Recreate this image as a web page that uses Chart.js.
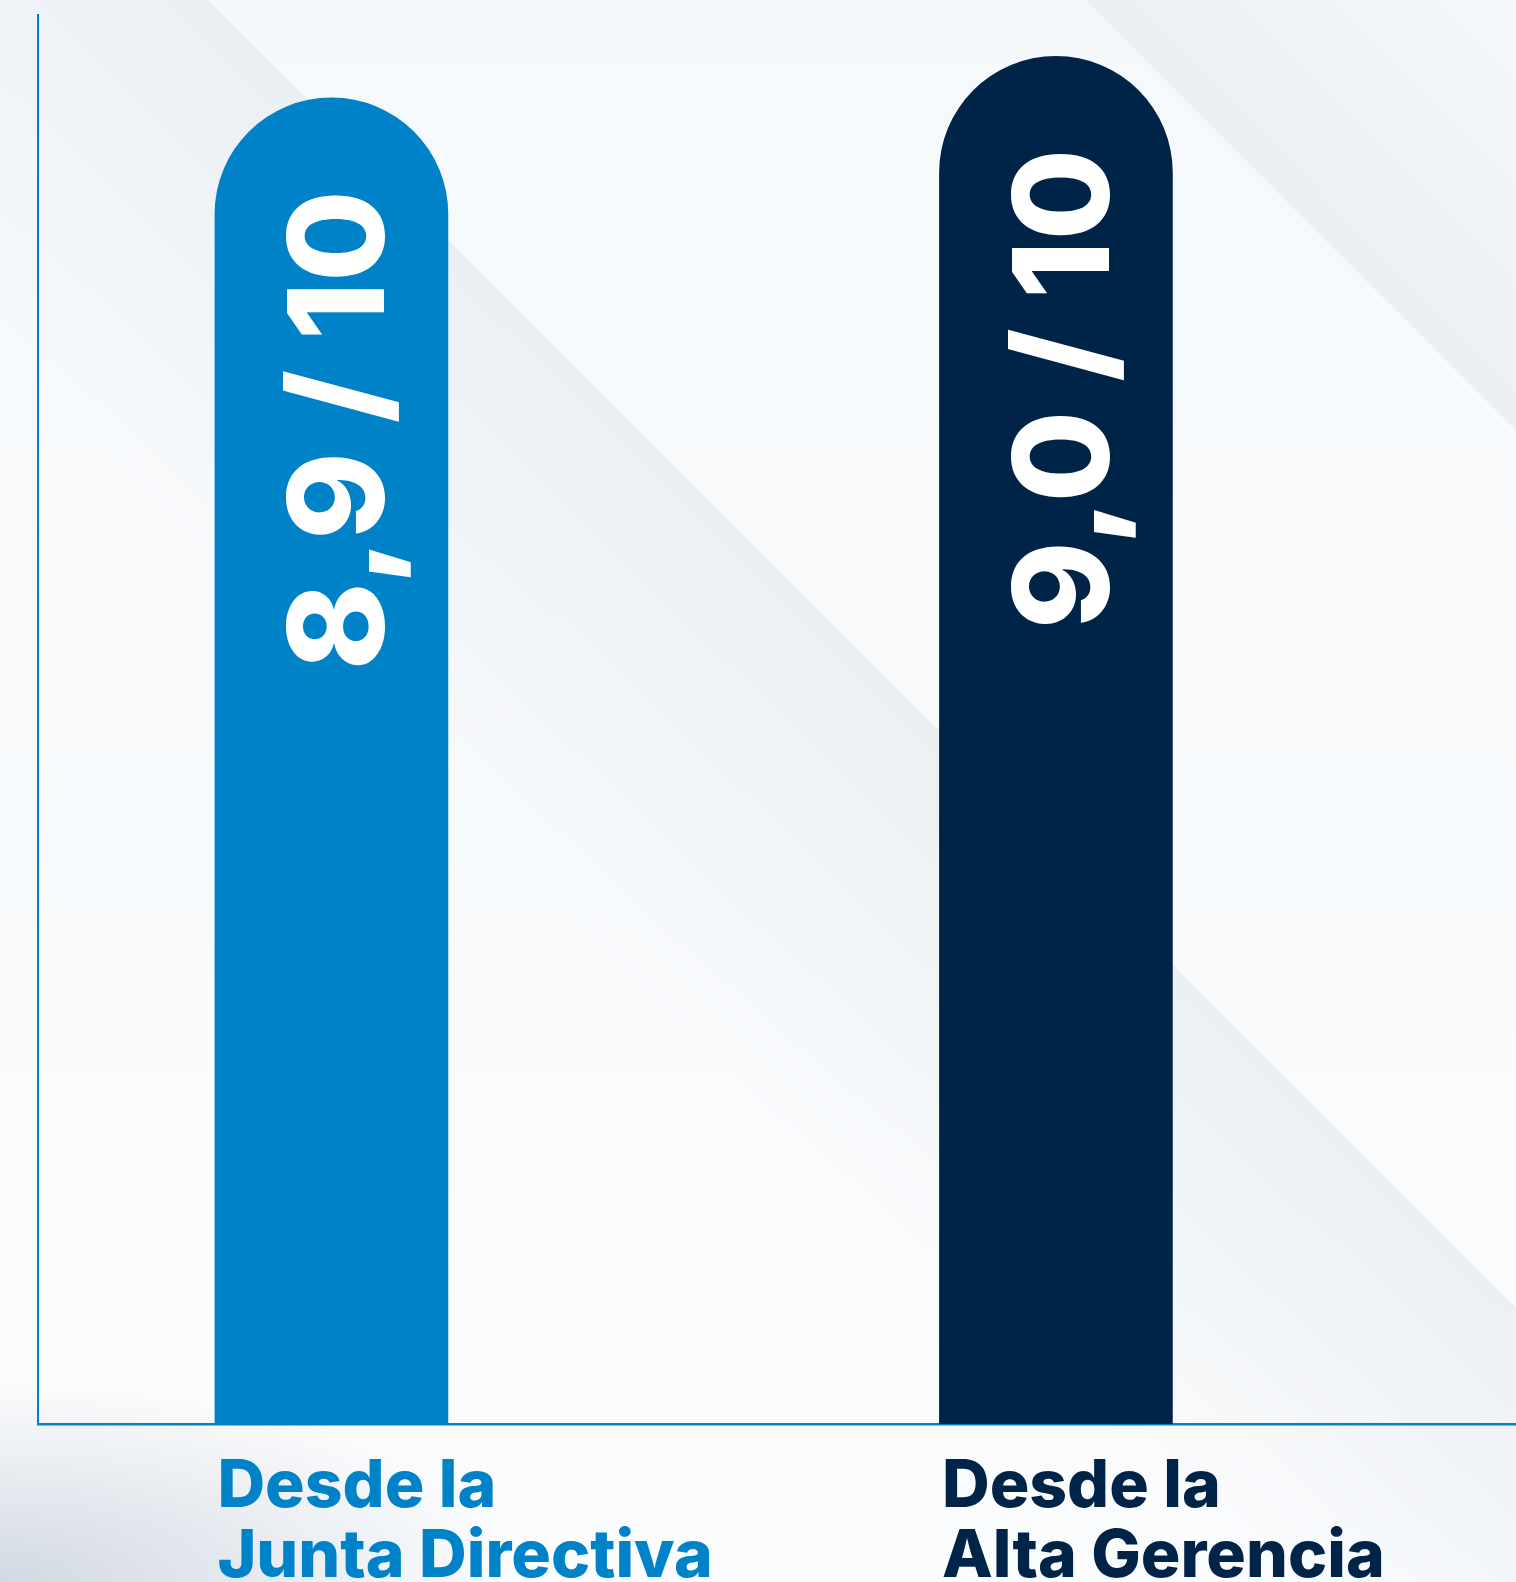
<!DOCTYPE html>
<html>
<head>
<meta charset="utf-8">
<script src="https://cdn.jsdelivr.net/npm/chart.js@4.4.1/dist/chart.umd.min.js"></script>
<style>
  html, body { margin: 0; padding: 0; }
  body {
    width: 1516px; height: 1582px; overflow: hidden;
    background:
      radial-gradient(ellipse 520px 200px at 0% 100%, rgba(208,215,225,0.95), rgba(208,215,225,0) 100%),
      linear-gradient(45deg, rgba(235,240,244,0) 40%, rgba(232,237,242,0.8) 57.8%, rgba(247,250,252,0) 57.8%),
      linear-gradient(45deg, rgba(235,240,244,0) 86.1%, rgba(233,238,243,0.9) 86.1%, rgba(243,247,250,0.2) 100%),
      linear-gradient(180deg, #f6f9fb 0%, #f8fafc 60%, #fbfcfd 100%);
  }
  #wrap { position: absolute; left: 0; top: 0; width: 1516px; height: 1582px; }
</style>
</head>
<body>
<div id="wrap"><canvas id="c" width="1516" height="1582"></canvas></div>
<script>
// ---- data ----
const categories = [["Desde la", "Junta Directiva"], ["Desde la", "Alta Gerencia"]];
const scores = [8.9, 9.0];
const scoreMax = 10;
const barColors = ["#0082c8", "#002447"];
const labelColors = ["#0082c8", "#002447"];

const points = scores.map((v, i) => ({ x: i, y: v }));
const valueText = scores.map(v => v.toFixed(1).replace('.', ',') + ' / ' + scoreMax);

const valuePlugin = {
  id: 'rotatedValues',
  afterDatasetsDraw(chart) {
    const ctx = chart.ctx;
    const meta = chart.getDatasetMeta(0);
    const fontSize = 133;
    ctx.save();
    ctx.fillStyle = '#ffffff';
    ctx.font = '800 ' + fontSize + 'px Inter';
    meta.data.forEach((el, i) => {
      ctx.save();
      ctx.translate(el.x + 53, el.y + 92);
      ctx.rotate(-Math.PI / 2);
      ctx.textAlign = 'right';
      ctx.textBaseline = 'alphabetic';
      ctx.fillText(valueText[i], 0, 0);
      ctx.restore();
    });
    ctx.restore();
  }
};

new Chart(document.getElementById('c'), {
  type: 'bar',
  data: {
    datasets: [{
      data: points,
      backgroundColor: barColors,
      borderWidth: 0,
      barThickness: 233,
      borderRadius: { topLeft: 117, topRight: 117, bottomLeft: 0, bottomRight: 0 },
      borderSkipped: 'start'
    }]
  },
  options: {
    responsive: false,
    devicePixelRatio: 1,
    animation: false,
    layout: { padding: { top: 15, left: 38, right: 0, bottom: 0 } },
    plugins: { legend: { display: false }, tooltip: { enabled: false } },
    scales: {
      x: {
        type: 'linear',
        offset: false,
        min: -0.405,
        max: 1.635,
        grid: { display: false, drawTicks: false, offset: false },
        border: { display: true, color: '#0082c8', width: 2.5 },
        afterBuildTicks: (scale) => { scale.ticks = categories.map((_, i) => ({ value: i })); },
        afterFit: (scale) => { scale.height = 158; scale.paddingLeft = 0; scale.paddingRight = 0; },
        ticks: {
          autoSkip: false,
          maxRotation: 0,
          align: 'start',
          labelOffset: -114,
          padding: 28,
          color: (c) => labelColors[c.index],
          font: { family: 'Inter', size: 66, weight: '800', lineHeight: 1.06 },
          callback: (v) => categories[v] || ''
        }
      },
      y: {
        min: 5.7,
        max: 9.1,
        grid: { display: false, drawTicks: false },
        border: { display: true, color: '#0082c8', width: 2 },
        ticks: { display: false }
      }
    }
  },
  plugins: [valuePlugin]
});
</script>
</body>
</html>
